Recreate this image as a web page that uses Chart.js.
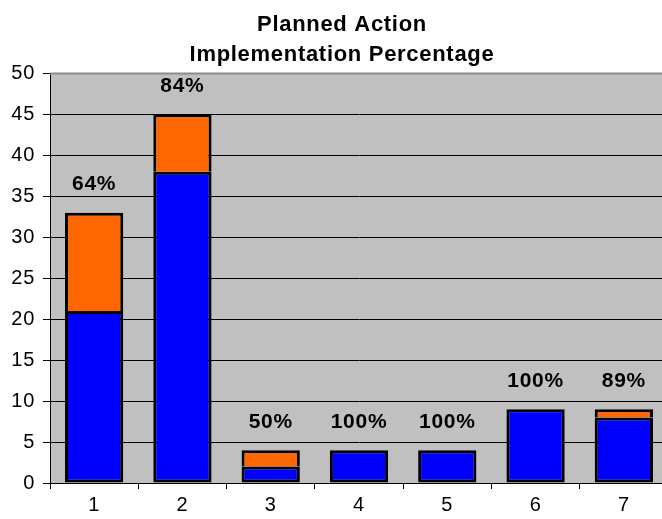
<!DOCTYPE html>
<html>
<head>
<meta charset="utf-8">
<script src="https://cdn.jsdelivr.net/npm/chart.js@4/dist/chart.umd.min.js"></script>
<style>
  html, body { margin: 0; padding: 0; background: #fff; overflow: hidden; }
  #wrap { width: 680px; height: 519px; }
</style>
</head>
<body>
<div id="wrap"><canvas id="chart"></canvas></div>
<script>
const labels = ["1", "2", "3", "4", "5", "6", "7"];
const implemented = [21, 38, 2, 4, 4, 9, 8];
const pending = [12, 7, 2, 0, 0, 0, 1];

const percentLabel = (i) => {
  const total = implemented[i] + pending[i];
  return Math.round((implemented[i] / total) * 100) + "%";
};

// grey plot area with a thin border, like the old spreadsheet charts
const plotArea = {
  id: "plotArea",
  afterLayout(chart) {
    // nudge the title so it sits a little right of the canvas middle
    if (chart.titleBlock) chart.titleBlock.left = 16;
  },
  beforeDraw(chart) {
    const { ctx, chartArea: a } = chart;
    ctx.save();
    ctx.fillStyle = "#c0c0c0";
    ctx.fillRect(a.left, a.top, a.right - a.left, a.bottom - a.top);
    ctx.restore();
    // slightly spaced lettering for all chart text
    ctx.letterSpacing = "0.7px";
  },
  afterDraw(chart) {
    const { ctx, chartArea: a } = chart;
    ctx.save();
    ctx.strokeStyle = "#8c8c8c";
    ctx.lineWidth = 2;
    ctx.beginPath();
    ctx.moveTo(a.left, a.top);
    ctx.lineTo(a.right, a.top);
    ctx.stroke();
    ctx.restore();
    ctx.letterSpacing = "0px";
  },
};

// percentage of implemented actions above each stack
const stackLabels = {
  id: "stackLabels",
  afterDatasetsDraw(chart) {
    const { ctx } = chart;
    const top = chart.getDatasetMeta(1).data;
    ctx.save();
    ctx.font = "bold 21px 'Liberation Sans', Arial, sans-serif";
    ctx.fillStyle = "#000";
    ctx.textAlign = "center";
    ctx.textBaseline = "middle";
    top.forEach((bar, i) => {
      ctx.fillText(percentLabel(i), bar.x, bar.y - 28);
    });
    ctx.restore();
  },
};

Chart.defaults.font.family = "'Liberation Sans', Arial, sans-serif";
Chart.defaults.color = "#000";

new Chart(document.getElementById("chart"), {
  type: "bar",
  data: {
    labels: labels,
    datasets: [
      {
        data: implemented,
        backgroundColor: "#0000ff",
        borderColor: "#000",
        borderWidth: 3,
        borderSkipped: false,
      },
      {
        data: pending,
        backgroundColor: "#ff6600",
        borderColor: "#000",
        borderWidth: 3,
        borderSkipped: "bottom",
      },
    ],
  },
  options: {
    responsive: true,
    maintainAspectRatio: false,
    animation: false,
    datasets: {
      bar: { categoryPercentage: 1, barPercentage: 0.66 },
    },
    layout: { padding: { right: 12 } },
    plugins: {
      legend: { display: false },
      tooltip: { enabled: false },
      title: {
        display: true,
        text: ["Planned Action", "Implementation Percentage"],
        font: { size: 22, weight: "bold", lineHeight: 1.35 },
        color: "#000",
        padding: { top: 10, bottom: 4 },
      },
    },
    scales: {
      x: {
        stacked: true,
        afterFit(scale) { scale.height = 36; },
        grid: {
          offset: true,
          drawOnChartArea: false,
          color: "#000",
          tickLength: 6,
        },
        border: { color: "#000", width: 1 },
        ticks: { font: { size: 20 }, padding: 4 },
      },
      y: {
        stacked: true,
        min: 0,
        max: 50,
        afterFit(scale) { scale.width = 50; },
        ticks: { stepSize: 5, font: { size: 20 }, padding: 8 },
        grid: { color: "#000", tickLength: 7 },
        border: { color: "#000", width: 1 },
      },
    },
  },
  plugins: [plotArea, stackLabels],
});
</script>
</body>
</html>
